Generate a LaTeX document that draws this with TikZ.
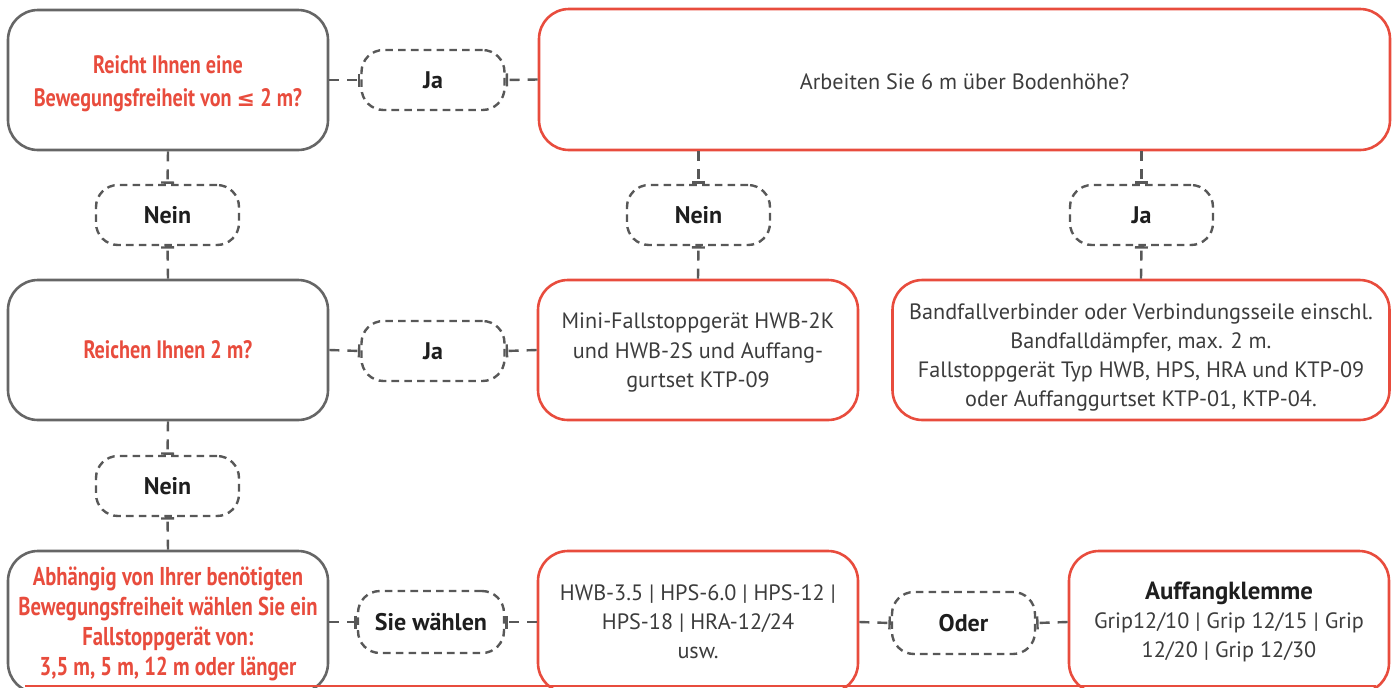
\documentclass[tikz,border=0pt]{standalone}
\usepackage{fontspec}
\setmainfont{PT Sans}
\newfontfamily\condfont[FakeStretch=0.8]{PT Sans}
\newfontfamily\symfont{DejaVu Sans}
\usetikzlibrary{arrows.meta}
\definecolor{myred}{RGB}{232,76,61}
\definecolor{boxgray}{RGB}{102,102,102}
\definecolor{dashgray}{RGB}{88,88,88}
\definecolor{bodytext}{RGB}{60,60,60}
\definecolor{lbltext}{RGB}{30,30,30}
\newcommand{\uprule}[1]{\rule{0pt}{#1}}
\tikzset{
  bigbox/.style={draw=boxgray, line width=1.3pt, rounded corners=15pt, minimum width=160pt, minimum height=70pt, align=center, inner sep=0pt},
  redbox/.style={bigbox, draw=myred},
  qtext/.style={text=myred, font=\fontsize{12.6}{16.5}\selectfont\condfont\bfseries},
  btext/.style={text=bodytext, font=\fontsize{11.1}{14.6}\selectfont},
  lbl/.style={draw=dashgray, dash pattern=on 3.8pt off 2.6pt, line width=1.2pt, rounded corners=11pt, minimum width=71.5pt, minimum height=30pt, inner sep=0pt, text=lbltext, font=\fontsize{12}{14}\selectfont\bfseries},
  conn/.style={draw=dashgray, line width=1.2pt, dash pattern=on 5pt off 4pt},
  tick/.style={-{Bar[width=6.5pt,line width=1.2pt]}},
}
\begin{document}
\begin{tikzpicture}[x=0.5pt,y=-0.5pt]
\useasboundingbox (0,0) rectangle (1394,687);
\clip (0,0) rectangle (1394,687);
% big boxes
\node[bigbox, qtext] (A) at (168,80) {\uprule{13pt}Reicht Ihnen eine\\Bewegungsfreiheit von {\symfont\bfseries\fontsize{11}{16.5}\selectfont ≤} 2 m?};
\node[redbox, btext, minimum width=425.5pt, minimum height=70.5pt] (B) at (964.5,79.5) {\uprule{10pt}Arbeiten Sie 6 m über Bodenhöhe?};
\node[bigbox, qtext] (C) at (168,350) {Reichen Ihnen 2 m?};
\node[redbox, btext] (D) at (698,350) {\uprule{10.5pt}Mini-Fallstoppgerät HWB-2K\\und HWB-2S und Auffang-\\gurtset KTP-09};
\node[redbox, btext, minimum width=248.5pt] (E) at (1141,350) {\uprule{15.5pt}Bandfallverbinder oder Verbindungsseile einschl.\\Bandfalldämpfer, max. 2 m.\\Fallstoppgerät Typ HWB, HPS, HRA und KTP-09\\oder Auffanggurtset KTP-01, KTP-04.};
\node[bigbox, qtext, minimum height=71pt, font=\fontsize{12.9}{15}\selectfont\condfont\bfseries] (F) at (168,622) {\uprule{11.5pt}Abhängig von Ihrer benötigten\\Bewegungsfreiheit wählen Sie ein\\Fallstoppgerät von:\\3,5 m, 5 m, 12 m oder länger};
\node[redbox, btext, minimum height=71pt] (G) at (698,622) {HWB-3.5 | HPS-6.0 | HPS-12 |\\HPS-18 | HRA-12/24\\usw.};
\node[redbox, btext, minimum height=71pt] (H) at (1229,622) {{\color{lbltext}\bfseries\fontsize{12.4}{14.6}\selectfont Auffangklemme}\\Grip12/10 | Grip 12/15 | Grip\\12/20 | Grip 12/30};
% labels
\node[lbl] (J1) at (433,80) {Ja};
\node[lbl] (N1) at (167.5,215) {Nein};
\node[lbl] (N2) at (698.5,215) {Nein};
\node[lbl] (J2) at (1141.5,215) {Ja};
\node[lbl] (J3) at (433,351) {Ja};
\node[lbl] (N3) at (167.5,486) {Nein};
\node[lbl, minimum width=73pt, minimum height=31pt] (S) at (431,622) {Sie wählen};
\node[lbl, minimum height=31pt] (O) at (963.5,623) {Oder};
% connectors
\draw[conn, tick] (A.east) -- (J1.west);
\draw[conn, tick] (B.west) -- (J1.east);
\draw[conn, tick] (A.south) -- (N1.north);
\draw[conn, tick] (C.north) -- (N1.south);
\draw[conn, tick] (N2 |- B.south) -- (N2.north);
\draw[conn, tick] (D.north) -- (N2.south);
\draw[conn, tick] (J2 |- B.south) -- (J2.north);
\draw[conn, tick] (E.north) -- (J2.south);
\draw[conn, tick] (C.east) -- (J3.west);
\draw[conn, tick] (D.west) -- (J3.east);
\draw[conn, tick] (C.south) -- (N3.north);
\draw[conn, tick] (F.north) -- (N3.south);
\draw[conn, tick] (F.east) -- (S.west);
\draw[conn, tick] (G.west) -- (S.east);
\draw[conn, tick] (G.east) -- (O.west);
\draw[conn, tick] (H.west) -- (O.east);
% bottom rule
\coordinate (r1) at (25,686);
\coordinate (r2) at (1376,686);
\draw[myred, line width=1.3pt] (r1) -- (r2);
\end{tikzpicture}
\end{document}
